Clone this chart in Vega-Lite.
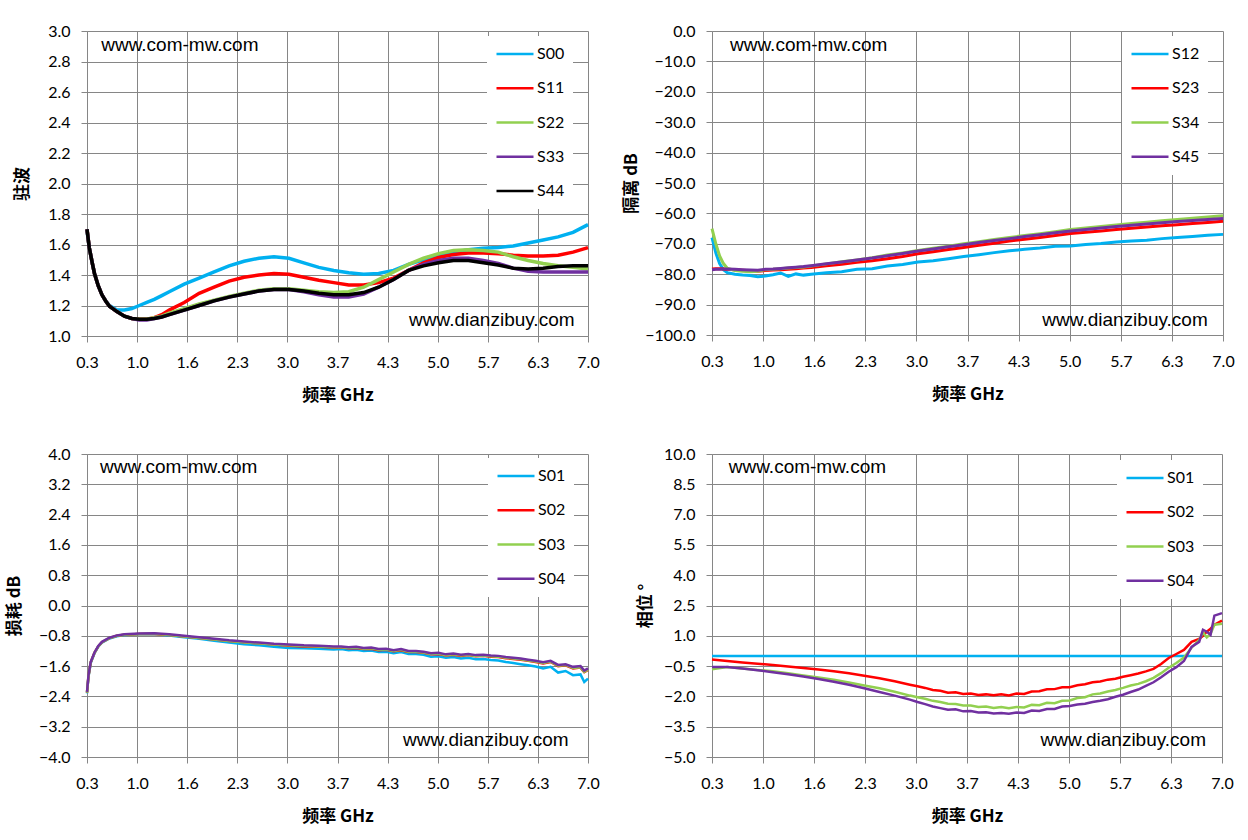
{
  "$schema": "https://vega.github.io/schema/vega-lite/v6.json",
  "background": "white",
  "padding": {"left": 5, "top": 23, "right": 5, "bottom": 5},
  "config": {
    "view": {"stroke": null},
    "axis": {"grid": true, "gridColor": "#868686", "gridWidth": 1, "gridOpacity": 1, "domainColor": "#868686", "tickColor": "#868686", "tickSize": 6, "labelFont": "Lato", "labelFontSize": 16, "labelColor": "#000000", "labelPadding": 10, "labelFlush": false, "labelOverlap": false, "titleFont": "Noto Sans CJK SC", "titleFontSize": 17, "titleFontWeight": "bold", "titleColor": "#000000"},
    "axisX": {"titlePadding": 17, "labelPadding": 12},
    "axisY": {"labelPadding": 11},
    "legend": {"orient": "none", "title": null, "fillColor": "white", "padding": 8, "symbolType": "stroke", "symbolSize": 1369, "symbolStrokeWidth": 2.5, "clipHeight": 20, "rowPadding": 14.25, "labelFont": "Lato", "labelFontSize": 16, "labelColor": "#000000", "labelOffset": 2}
  },
  "datasets": {
    "vswr": [
      {"f":0.3,"S00":1.69,"S11":1.70,"S22":1.70,"S33":1.70,"S44":1.70},
      {"f":0.33,"S00":1.58,"S11":1.58,"S22":1.58,"S33":1.58,"S44":1.58},
      {"f":0.37,"S00":1.48,"S11":1.48,"S22":1.48,"S33":1.48,"S44":1.48},
      {"f":0.4,"S00":1.41,"S11":1.41,"S22":1.41,"S33":1.41,"S44":1.41},
      {"f":0.45,"S00":1.33,"S11":1.33,"S22":1.33,"S33":1.33,"S44":1.33},
      {"f":0.5,"S00":1.27,"S11":1.27,"S22":1.27,"S33":1.27,"S44":1.27},
      {"f":0.55,"S00":1.23,"S11":1.23,"S22":1.23,"S33":1.23,"S44":1.23},
      {"f":0.6,"S00":1.20,"S11":1.195,"S22":1.195,"S33":1.195,"S44":1.195},
      {"f":0.7,"S00":1.17,"S11":1.16,"S22":1.16,"S33":1.16,"S44":1.16},
      {"f":0.8,"S00":1.17,"S11":1.13,"S22":1.13,"S33":1.13,"S44":1.13},
      {"f":0.9,"S00":1.18,"S11":1.115,"S22":1.115,"S33":1.115,"S44":1.115},
      {"f":1.0,"S00":1.20,"S11":1.11,"S22":1.11,"S33":1.105,"S44":1.11},
      {"f":1.1,"S00":1.22,"S11":1.11,"S22":1.11,"S33":1.105,"S44":1.11},
      {"f":1.2,"S00":1.24,"S11":1.12,"S22":1.12,"S33":1.115,"S44":1.115},
      {"f":1.3,"S00":1.265,"S11":1.14,"S22":1.13,"S33":1.125,"S44":1.125},
      {"f":1.4,"S00":1.29,"S11":1.17,"S22":1.15,"S33":1.14,"S44":1.14},
      {"f":1.6,"S00":1.34,"S11":1.22,"S22":1.18,"S33":1.17,"S44":1.17},
      {"f":1.8,"S00":1.38,"S11":1.28,"S22":1.21,"S33":1.20,"S44":1.20},
      {"f":2.0,"S00":1.42,"S11":1.32,"S22":1.235,"S33":1.23,"S44":1.23},
      {"f":2.2,"S00":1.46,"S11":1.36,"S22":1.26,"S33":1.255,"S44":1.255},
      {"f":2.4,"S00":1.49,"S11":1.385,"S22":1.28,"S33":1.275,"S44":1.275},
      {"f":2.6,"S00":1.51,"S11":1.40,"S22":1.30,"S33":1.295,"S44":1.295},
      {"f":2.8,"S00":1.52,"S11":1.41,"S22":1.31,"S33":1.305,"S44":1.305},
      {"f":3.0,"S00":1.51,"S11":1.405,"S22":1.31,"S33":1.305,"S44":1.305},
      {"f":3.2,"S00":1.48,"S11":1.385,"S22":1.30,"S33":1.29,"S44":1.295},
      {"f":3.4,"S00":1.45,"S11":1.365,"S22":1.29,"S33":1.27,"S44":1.28},
      {"f":3.6,"S00":1.43,"S11":1.35,"S22":1.285,"S33":1.255,"S44":1.27},
      {"f":3.8,"S00":1.415,"S11":1.335,"S22":1.29,"S33":1.255,"S44":1.27},
      {"f":4.0,"S00":1.405,"S11":1.335,"S22":1.32,"S33":1.275,"S44":1.285},
      {"f":4.2,"S00":1.41,"S11":1.35,"S22":1.37,"S33":1.32,"S44":1.32},
      {"f":4.4,"S00":1.43,"S11":1.38,"S22":1.42,"S33":1.37,"S44":1.37},
      {"f":4.6,"S00":1.47,"S11":1.43,"S22":1.47,"S33":1.43,"S44":1.43},
      {"f":4.8,"S00":1.50,"S11":1.48,"S22":1.51,"S33":1.47,"S44":1.46},
      {"f":5.0,"S00":1.53,"S11":1.515,"S22":1.54,"S33":1.495,"S44":1.48},
      {"f":5.2,"S00":1.55,"S11":1.535,"S22":1.56,"S33":1.51,"S44":1.495},
      {"f":5.4,"S00":1.565,"S11":1.545,"S22":1.565,"S33":1.51,"S44":1.495},
      {"f":5.6,"S00":1.575,"S11":1.545,"S22":1.56,"S33":1.495,"S44":1.48},
      {"f":5.8,"S00":1.58,"S11":1.54,"S22":1.55,"S33":1.475,"S44":1.465},
      {"f":6.0,"S00":1.59,"S11":1.53,"S22":1.52,"S33":1.445,"S44":1.445},
      {"f":6.2,"S00":1.61,"S11":1.525,"S22":1.495,"S33":1.425,"S44":1.44},
      {"f":6.4,"S00":1.63,"S11":1.525,"S22":1.475,"S33":1.42,"S44":1.445},
      {"f":6.6,"S00":1.65,"S11":1.53,"S22":1.46,"S33":1.42,"S44":1.455},
      {"f":6.8,"S00":1.68,"S11":1.55,"S22":1.45,"S33":1.42,"S44":1.46},
      {"f":7.0,"S00":1.73,"S11":1.58,"S22":1.44,"S33":1.42,"S44":1.46}
    ],
    "iso": [
      {"f":0.3,"S12":-68,"S23":-78.3,"S34":-65,"S45":-78.5},
      {"f":0.35,"S12":-73,"S23":-78.2,"S34":-70,"S45":-78.4},
      {"f":0.4,"S12":-76.5,"S23":-78.2,"S34":-74,"S45":-78.4},
      {"f":0.45,"S12":-78.5,"S23":-78.3,"S34":-76.5,"S45":-78.3},
      {"f":0.5,"S12":-79.5,"S23":-78.4,"S34":-78,"S45":-78.3},
      {"f":0.6,"S12":-80,"S23":-78.5,"S34":-78.8,"S45":-78.4},
      {"f":0.7,"S12":-80.3,"S23":-78.7,"S34":-79,"S45":-78.5},
      {"f":0.8,"S12":-80.4,"S23":-78.9,"S34":-79.2,"S45":-78.6},
      {"f":0.9,"S12":-80.8,"S23":-79,"S34":-79,"S45":-78.7},
      {"f":1.0,"S12":-80.6,"S23":-78.8,"S34":-78.5,"S45":-78.4},
      {"f":1.1,"S12":-80.2,"S23":-78.6,"S34":-78.4,"S45":-78.3},
      {"f":1.2,"S12":-79.6,"S23":-78.5,"S34":-78.2,"S45":-78.1},
      {"f":1.3,"S12":-80.7,"S23":-78.4,"S34":-78,"S45":-77.9},
      {"f":1.4,"S12":-79.9,"S23":-78.2,"S34":-77.8,"S45":-77.7},
      {"f":1.5,"S12":-80.3,"S23":-78,"S34":-77.6,"S45":-77.5},
      {"f":1.6,"S12":-80,"S23":-77.8,"S34":-77.3,"S45":-77.2},
      {"f":1.8,"S12":-79.5,"S23":-77.2,"S34":-76.6,"S45":-76.6},
      {"f":2.0,"S12":-79.2,"S23":-76.7,"S34":-75.9,"S45":-76},
      {"f":2.2,"S12":-78.4,"S23":-76.1,"S34":-75.3,"S45":-75.3},
      {"f":2.4,"S12":-78.2,"S23":-75.6,"S34":-74.6,"S45":-74.7},
      {"f":2.6,"S12":-77.3,"S23":-74.9,"S34":-73.7,"S45":-73.9},
      {"f":2.8,"S12":-76.8,"S23":-74.2,"S34":-73,"S45":-73.2},
      {"f":3.0,"S12":-76,"S23":-73.3,"S34":-72.2,"S45":-72.4},
      {"f":3.2,"S12":-75.6,"S23":-72.6,"S34":-71.5,"S45":-71.7},
      {"f":3.4,"S12":-74.9,"S23":-71.9,"S34":-70.8,"S45":-71},
      {"f":3.6,"S12":-74.2,"S23":-71.2,"S34":-70,"S45":-70.3},
      {"f":3.8,"S12":-73.6,"S23":-70.5,"S34":-69.3,"S45":-69.6},
      {"f":4.0,"S12":-72.9,"S23":-69.8,"S34":-68.6,"S45":-68.9},
      {"f":4.2,"S12":-72.3,"S23":-69.1,"S34":-67.9,"S45":-68.3},
      {"f":4.4,"S12":-71.8,"S23":-68.5,"S34":-67.3,"S45":-67.6},
      {"f":4.6,"S12":-71.4,"S23":-67.9,"S34":-66.7,"S45":-67},
      {"f":4.8,"S12":-70.8,"S23":-67.3,"S34":-66,"S45":-66.4},
      {"f":5.0,"S12":-70.7,"S23":-66.6,"S34":-65.3,"S45":-65.8},
      {"f":5.2,"S12":-70.2,"S23":-66.2,"S34":-64.8,"S45":-65.3},
      {"f":5.4,"S12":-69.9,"S23":-65.8,"S34":-64.3,"S45":-64.8},
      {"f":5.6,"S12":-69.4,"S23":-65.3,"S34":-63.8,"S45":-64.3},
      {"f":5.8,"S12":-69.1,"S23":-64.9,"S34":-63.3,"S45":-63.9},
      {"f":6.0,"S12":-68.8,"S23":-64.5,"S34":-62.9,"S45":-63.5},
      {"f":6.2,"S12":-68.3,"S23":-64.1,"S34":-62.4,"S45":-63.1},
      {"f":6.4,"S12":-67.9,"S23":-63.7,"S34":-62,"S45":-62.7},
      {"f":6.6,"S12":-67.6,"S23":-63.3,"S34":-61.6,"S45":-62.3},
      {"f":6.8,"S12":-67.2,"S23":-63,"S34":-61.2,"S45":-62},
      {"f":7.0,"S12":-66.9,"S23":-62.6,"S34":-60.8,"S45":-61.7}
    ],
    "loss": [
      {"f":0.3,"S01":-2.32,"S02":-2.30,"S03":-2.30,"S04":-2.28},
      {"f":0.32,"S01":-1.88,"S02":-1.86,"S03":-1.86,"S04":-1.84},
      {"f":0.35,"S01":-1.52,"S02":-1.50,"S03":-1.50,"S04":-1.49},
      {"f":0.4,"S01":-1.26,"S02":-1.25,"S03":-1.25,"S04":-1.24},
      {"f":0.45,"S01":-1.09,"S02":-1.08,"S03":-1.08,"S04":-1.07},
      {"f":0.5,"S01":-0.98,"S02":-0.97,"S03":-0.97,"S04":-0.96},
      {"f":0.6,"S01":-0.87,"S02":-0.86,"S03":-0.86,"S04":-0.85},
      {"f":0.7,"S01":-0.81,"S02":-0.80,"S03":-0.80,"S04":-0.79},
      {"f":0.8,"S01":-0.78,"S02":-0.77,"S03":-0.77,"S04":-0.76},
      {"f":1.0,"S01":-0.76,"S02":-0.75,"S03":-0.75,"S04":-0.74},
      {"f":1.2,"S01":-0.75,"S02":-0.75,"S03":-0.745,"S04":-0.73},
      {"f":1.4,"S01":-0.79,"S02":-0.78,"S03":-0.78,"S04":-0.76},
      {"f":1.6,"S01":-0.84,"S02":-0.82,"S03":-0.82,"S04":-0.80},
      {"f":1.8,"S01":-0.88,"S02":-0.86,"S03":-0.86,"S04":-0.84},
      {"f":2.0,"S01":-0.93,"S02":-0.90,"S03":-0.90,"S04":-0.88},
      {"f":2.2,"S01":-0.98,"S02":-0.94,"S03":-0.94,"S04":-0.92},
      {"f":2.4,"S01":-1.02,"S02":-0.97,"S03":-0.97,"S04":-0.95},
      {"f":2.6,"S01":-1.05,"S02":-1.00,"S03":-1.00,"S04":-0.98},
      {"f":2.8,"S01":-1.09,"S02":-1.03,"S03":-1.03,"S04":-1.01},
      {"f":3.0,"S01":-1.12,"S02":-1.06,"S03":-1.05,"S04":-1.03},
      {"f":3.2,"S01":-1.13,"S02":-1.08,"S03":-1.07,"S04":-1.05},
      {"f":3.4,"S01":-1.14,"S02":-1.09,"S03":-1.08,"S04":-1.06},
      {"f":3.6,"S01":-1.16,"S02":-1.11,"S03":-1.10,"S04":-1.08},
      {"f":3.7,"S01":-1.15,"S02":-1.11,"S03":-1.10,"S04":-1.08},
      {"f":3.8,"S01":-1.18,"S02":-1.13,"S03":-1.12,"S04":-1.10},
      {"f":3.9,"S01":-1.17,"S02":-1.12,"S03":-1.11,"S04":-1.09},
      {"f":4.0,"S01":-1.20,"S02":-1.15,"S03":-1.14,"S04":-1.12},
      {"f":4.1,"S01":-1.19,"S02":-1.14,"S03":-1.13,"S04":-1.11},
      {"f":4.2,"S01":-1.23,"S02":-1.18,"S03":-1.17,"S04":-1.15},
      {"f":4.3,"S01":-1.22,"S02":-1.17,"S03":-1.16,"S04":-1.14},
      {"f":4.4,"S01":-1.26,"S02":-1.21,"S03":-1.20,"S04":-1.18},
      {"f":4.5,"S01":-1.23,"S02":-1.18,"S03":-1.17,"S04":-1.15},
      {"f":4.6,"S01":-1.28,"S02":-1.23,"S03":-1.22,"S04":-1.20},
      {"f":4.7,"S01":-1.28,"S02":-1.23,"S03":-1.22,"S04":-1.20},
      {"f":4.8,"S01":-1.30,"S02":-1.25,"S03":-1.24,"S04":-1.22},
      {"f":4.9,"S01":-1.35,"S02":-1.29,"S03":-1.28,"S04":-1.26},
      {"f":5.0,"S01":-1.34,"S02":-1.28,"S03":-1.27,"S04":-1.25},
      {"f":5.1,"S01":-1.38,"S02":-1.32,"S03":-1.31,"S04":-1.29},
      {"f":5.2,"S01":-1.36,"S02":-1.30,"S03":-1.29,"S04":-1.27},
      {"f":5.3,"S01":-1.40,"S02":-1.33,"S03":-1.32,"S04":-1.30},
      {"f":5.4,"S01":-1.38,"S02":-1.31,"S03":-1.30,"S04":-1.28},
      {"f":5.5,"S01":-1.42,"S02":-1.34,"S03":-1.33,"S04":-1.31},
      {"f":5.6,"S01":-1.41,"S02":-1.33,"S03":-1.32,"S04":-1.30},
      {"f":5.7,"S01":-1.44,"S02":-1.35,"S03":-1.34,"S04":-1.32},
      {"f":5.8,"S01":-1.45,"S02":-1.36,"S03":-1.35,"S04":-1.33},
      {"f":5.9,"S01":-1.49,"S02":-1.39,"S03":-1.38,"S04":-1.36},
      {"f":6.0,"S01":-1.52,"S02":-1.41,"S03":-1.40,"S04":-1.38},
      {"f":6.1,"S01":-1.55,"S02":-1.43,"S03":-1.42,"S04":-1.40},
      {"f":6.2,"S01":-1.58,"S02":-1.46,"S03":-1.45,"S04":-1.43},
      {"f":6.3,"S01":-1.61,"S02":-1.49,"S03":-1.48,"S04":-1.46},
      {"f":6.4,"S01":-1.66,"S02":-1.53,"S03":-1.52,"S04":-1.50},
      {"f":6.5,"S01":-1.62,"S02":-1.49,"S03":-1.48,"S04":-1.46},
      {"f":6.6,"S01":-1.77,"S02":-1.60,"S03":-1.59,"S04":-1.57},
      {"f":6.7,"S01":-1.73,"S02":-1.58,"S03":-1.57,"S04":-1.55},
      {"f":6.8,"S01":-1.84,"S02":-1.66,"S03":-1.65,"S04":-1.62},
      {"f":6.9,"S01":-1.82,"S02":-1.64,"S03":-1.63,"S04":-1.60},
      {"f":6.95,"S01":-2.02,"S02":-1.76,"S03":-1.75,"S04":-1.72},
      {"f":7.0,"S01":-1.93,"S02":-1.70,"S03":-1.69,"S04":-1.66}
    ],
    "phase": [
      {"f":0.3,"S01":0,"S02":-0.17,"S03":-0.66,"S04":-0.55},
      {"f":0.5,"S01":0,"S02":-0.25,"S03":-0.55,"S04":-0.55},
      {"f":0.7,"S01":0,"S02":-0.32,"S03":-0.62,"S04":-0.62},
      {"f":0.9,"S01":0,"S02":-0.38,"S03":-0.69,"S04":-0.70},
      {"f":1.1,"S01":0,"S02":-0.44,"S03":-0.76,"S04":-0.80},
      {"f":1.3,"S01":0,"S02":-0.52,"S03":-0.85,"S04":-0.90},
      {"f":1.5,"S01":0,"S02":-0.59,"S03":-0.96,"S04":-1.02},
      {"f":1.7,"S01":0,"S02":-0.67,"S03":-1.06,"S04":-1.14},
      {"f":1.9,"S01":0,"S02":-0.75,"S03":-1.18,"S04":-1.27},
      {"f":2.1,"S01":0,"S02":-0.85,"S03":-1.31,"S04":-1.42},
      {"f":2.3,"S01":0,"S02":-0.98,"S03":-1.46,"S04":-1.60},
      {"f":2.5,"S01":0,"S02":-1.10,"S03":-1.60,"S04":-1.78},
      {"f":2.7,"S01":0,"S02":-1.25,"S03":-1.77,"S04":-1.96},
      {"f":2.9,"S01":0,"S02":-1.42,"S03":-1.96,"S04":-2.16},
      {"f":3.0,"S01":0,"S02":-1.50,"S03":-2.04,"S04":-2.28},
      {"f":3.1,"S01":0,"S02":-1.58,"S03":-2.12,"S04":-2.38},
      {"f":3.2,"S01":0,"S02":-1.68,"S03":-2.22,"S04":-2.50},
      {"f":3.3,"S01":0,"S02":-1.72,"S03":-2.28,"S04":-2.58},
      {"f":3.4,"S01":0,"S02":-1.82,"S03":-2.36,"S04":-2.66},
      {"f":3.5,"S01":0,"S02":-1.80,"S03":-2.38,"S04":-2.64},
      {"f":3.6,"S01":0,"S02":-1.88,"S03":-2.45,"S04":-2.74},
      {"f":3.7,"S01":0,"S02":-1.86,"S03":-2.45,"S04":-2.72},
      {"f":3.8,"S01":0,"S02":-1.93,"S03":-2.52,"S04":-2.80},
      {"f":3.9,"S01":0,"S02":-1.90,"S03":-2.50,"S04":-2.78},
      {"f":4.0,"S01":0,"S02":-1.94,"S03":-2.57,"S04":-2.85},
      {"f":4.1,"S01":0,"S02":-1.90,"S03":-2.52,"S04":-2.82},
      {"f":4.2,"S01":0,"S02":-1.95,"S03":-2.58,"S04":-2.86},
      {"f":4.3,"S01":0,"S02":-1.86,"S03":-2.52,"S04":-2.80},
      {"f":4.4,"S01":0,"S02":-1.88,"S03":-2.55,"S04":-2.82},
      {"f":4.5,"S01":0,"S02":-1.76,"S03":-2.42,"S04":-2.70},
      {"f":4.6,"S01":0,"S02":-1.74,"S03":-2.44,"S04":-2.72},
      {"f":4.7,"S01":0,"S02":-1.65,"S03":-2.32,"S04":-2.62},
      {"f":4.8,"S01":0,"S02":-1.64,"S03":-2.34,"S04":-2.62},
      {"f":4.9,"S01":0,"S02":-1.55,"S03":-2.22,"S04":-2.50},
      {"f":5.0,"S01":0,"S02":-1.55,"S03":-2.20,"S04":-2.48},
      {"f":5.1,"S01":0,"S02":-1.45,"S03":-2.08,"S04":-2.40},
      {"f":5.2,"S01":0,"S02":-1.40,"S03":-2.04,"S04":-2.36},
      {"f":5.3,"S01":0,"S02":-1.30,"S03":-1.90,"S04":-2.28},
      {"f":5.4,"S01":0,"S02":-1.26,"S03":-1.86,"S04":-2.22},
      {"f":5.5,"S01":0,"S02":-1.17,"S03":-1.76,"S04":-2.14},
      {"f":5.6,"S01":0,"S02":-1.13,"S03":-1.68,"S04":-2.02},
      {"f":5.7,"S01":0,"S02":-1.03,"S03":-1.58,"S04":-1.92},
      {"f":5.8,"S01":0,"S02":-0.95,"S03":-1.46,"S04":-1.78},
      {"f":5.9,"S01":0,"S02":-0.87,"S03":-1.38,"S04":-1.66},
      {"f":6.0,"S01":0,"S02":-0.76,"S03":-1.25,"S04":-1.48},
      {"f":6.1,"S01":0,"S02":-0.64,"S03":-1.08,"S04":-1.30},
      {"f":6.2,"S01":0,"S02":-0.40,"S03":-0.85,"S04":-1.05},
      {"f":6.3,"S01":0,"S02":-0.10,"S03":-0.58,"S04":-0.78},
      {"f":6.4,"S01":0,"S02":0.10,"S03":-0.35,"S04":-0.55},
      {"f":6.5,"S01":0,"S02":0.30,"S03":-0.08,"S04":-0.25},
      {"f":6.6,"S01":0,"S02":0.70,"S03":0.41,"S04":0.45},
      {"f":6.7,"S01":0,"S02":0.85,"S03":0.80,"S04":0.70},
      {"f":6.75,"S01":0,"S02":1.00,"S03":1.16,"S04":1.30},
      {"f":6.8,"S01":0,"S02":1.20,"S03":0.92,"S04":1.20},
      {"f":6.85,"S01":0,"S02":1.35,"S03":1.10,"S04":1.05},
      {"f":6.9,"S01":0,"S02":1.55,"S03":1.55,"S04":2.00},
      {"f":7.0,"S01":0,"S02":1.75,"S03":1.60,"S04":2.12}
    ]
  },
  "columns": 2,
  "align": "all",
  "bounds": "flush",
  "spacing": {"row": 118, "column": 114},
  "resolve": {"scale": {"color": "independent"}, "legend": {"color": "independent"}},
  "concat": [
    {
      "width": 501, "height": 305,
      "layer": [
        {
          "data": {"name": "vswr"},
          "transform": [{"fold": ["S00", "S11", "S22", "S33", "S44"], "as": ["s", "v"]}],
          "mark": {"type": "line", "strokeWidth": 3.5},
          "encoding": {
            "x": {"field": "f", "type": "quantitative", "scale": {"domain": [0.3, 7.0], "nice": false, "zero": false}, "axis": {"values": [0.3, 0.97, 1.64, 2.31, 2.98, 3.65, 4.32, 4.99, 5.66, 6.33, 7.0], "tickCount": 11, "labelExpr": "format(datum.value + 0.000001, '.1f')", "title": "频率  GHz"}},
            "y": {"field": "v", "type": "quantitative", "scale": {"domain": [1.0, 3.0], "nice": false, "zero": false}, "axis": {"values": [1.0, 1.2, 1.4, 1.6, 1.8, 2.0, 2.2, 2.4, 2.6, 2.8, 3.0], "tickCount": 11, "format": ".1f", "title": "驻波", "titlePadding": 16}},
            "color": {"field": "s", "type": "nominal", "scale": {"domain": ["S00", "S11", "S22", "S33", "S44"], "range": ["#00b0f0", "#ff0000", "#92d050", "#7030a0", "#000000"]}, "legend": {"orient": "none", "legendX": 400, "legendY": 5}}
          }
        },
        {
          "data": {"values": [{"t": "www.com-mw.com"}]},
          "mark": {"type": "text", "align": "left", "baseline": "middle", "font": "Liberation Sans", "fontSize": 19, "color": "#000000"},
          "encoding": {"text": {"field": "t"}, "x": {"datum": 0.49, "type": "quantitative"}, "y": {"datum": 2.91, "type": "quantitative"}}
        },
        {
          "data": {"values": [{"t": "www.dianzibuy.com"}]},
          "mark": {"type": "text", "align": "right", "baseline": "middle", "font": "Liberation Sans", "fontSize": 19, "color": "#000000"},
          "encoding": {"text": {"field": "t"}, "x": {"datum": 6.82, "type": "quantitative"}, "y": {"datum": 1.105, "type": "quantitative"}}
        }
      ]
    },
    {
      "width": 511, "height": 304,
      "layer": [
        {
          "data": {"name": "iso"},
          "transform": [{"fold": ["S12", "S23", "S34", "S45"], "as": ["s", "v"]}],
          "mark": {"type": "line", "strokeWidth": 3},
          "encoding": {
            "x": {"field": "f", "type": "quantitative", "scale": {"domain": [0.3, 7.0], "nice": false, "zero": false}, "axis": {"values": [0.3, 0.97, 1.64, 2.31, 2.98, 3.65, 4.32, 4.99, 5.66, 6.33, 7.0], "tickCount": 11, "labelExpr": "format(datum.value + 0.000001, '.1f')", "title": "频率  GHz"}},
            "y": {"field": "v", "type": "quantitative", "scale": {"domain": [-100, 0], "nice": false, "zero": false}, "axis": {"values": [-100, -90, -80, -70, -60, -50, -40, -30, -20, -10, 0], "tickCount": 11, "format": ".1f", "title": "隔离 dB", "titlePadding": 4}},
            "color": {"field": "s", "type": "nominal", "scale": {"domain": ["S12", "S23", "S34", "S45"], "range": ["#00b0f0", "#ff0000", "#92d050", "#7030a0"]}, "legend": {"orient": "none", "legendX": 410, "legendY": 5}}
          }
        },
        {
          "data": {"values": [{"t": "www.com-mw.com"}]},
          "mark": {"type": "text", "align": "left", "baseline": "middle", "font": "Liberation Sans", "fontSize": 19, "color": "#000000"},
          "encoding": {"text": {"field": "t"}, "x": {"datum": 0.536, "type": "quantitative"}, "y": {"datum": -4.6, "type": "quantitative"}}
        },
        {
          "data": {"values": [{"t": "www.dianzibuy.com"}]},
          "mark": {"type": "text", "align": "right", "baseline": "middle", "font": "Liberation Sans", "fontSize": 19, "color": "#000000"},
          "encoding": {"text": {"field": "t"}, "x": {"datum": 6.8, "type": "quantitative"}, "y": {"datum": -95.1, "type": "quantitative"}}
        }
      ]
    },
    {
      "width": 501, "height": 303,
      "layer": [
        {
          "data": {"name": "loss"},
          "transform": [{"fold": ["S01", "S02", "S03", "S04"], "as": ["s", "v"]}],
          "mark": {"type": "line", "strokeWidth": 2.5},
          "encoding": {
            "x": {"field": "f", "type": "quantitative", "scale": {"domain": [0.3, 7.0], "nice": false, "zero": false}, "axis": {"values": [0.3, 0.97, 1.64, 2.31, 2.98, 3.65, 4.32, 4.99, 5.66, 6.33, 7.0], "tickCount": 11, "labelExpr": "format(datum.value + 0.000001, '.1f')", "title": "频率  GHz"}},
            "y": {"field": "v", "type": "quantitative", "scale": {"domain": [-4.0, 4.0], "nice": false, "zero": false}, "axis": {"values": [-4.0, -3.2, -2.4, -1.6, -0.8, 0.0, 0.8, 1.6, 2.4, 3.2, 4.0], "tickCount": 11, "format": ".1f", "title": "损耗 dB", "titlePadding": 15}},
            "color": {"field": "s", "type": "nominal", "scale": {"domain": ["S01", "S02", "S03", "S04"], "range": ["#00b0f0", "#ff0000", "#92d050", "#7030a0"]}, "legend": {"orient": "none", "legendX": 401, "legendY": 4}}
          }
        },
        {
          "data": {"values": [{"t": "www.com-mw.com"}]},
          "mark": {"type": "text", "align": "left", "baseline": "middle", "font": "Liberation Sans", "fontSize": 19, "color": "#000000"},
          "encoding": {"text": {"field": "t"}, "x": {"datum": 0.474, "type": "quantitative"}, "y": {"datum": 3.66, "type": "quantitative"}}
        },
        {
          "data": {"values": [{"t": "www.dianzibuy.com"}]},
          "mark": {"type": "text", "align": "right", "baseline": "middle", "font": "Liberation Sans", "fontSize": 19, "color": "#000000"},
          "encoding": {"text": {"field": "t"}, "x": {"datum": 6.74, "type": "quantitative"}, "y": {"datum": -3.55, "type": "quantitative"}}
        }
      ]
    },
    {
      "width": 510, "height": 303,
      "layer": [
        {
          "data": {"name": "phase"},
          "transform": [{"fold": ["S01", "S02", "S03", "S04"], "as": ["s", "v"]}],
          "mark": {"type": "line", "strokeWidth": 2.5},
          "encoding": {
            "x": {"field": "f", "type": "quantitative", "scale": {"domain": [0.3, 7.0], "nice": false, "zero": false}, "axis": {"values": [0.3, 0.97, 1.64, 2.31, 2.98, 3.65, 4.32, 4.99, 5.66, 6.33, 7.0], "tickCount": 11, "labelExpr": "format(datum.value + 0.000001, '.1f')", "title": "频率  GHz"}},
            "y": {"field": "v", "type": "quantitative", "scale": {"domain": [-5.0, 10.0], "nice": false, "zero": false}, "axis": {"values": [-5.0, -3.5, -2.0, -0.5, 1.0, 2.5, 4.0, 5.5, 7.0, 8.5, 10.0], "tickCount": 11, "format": ".1f", "title": "相位 °", "titlePadding": 9}},
            "color": {"field": "s", "type": "nominal", "scale": {"domain": ["S01", "S02", "S03", "S04"], "range": ["#00b0f0", "#ff0000", "#92d050", "#7030a0"]}, "legend": {"orient": "none", "legendX": 405, "legendY": 6}}
          }
        },
        {
          "data": {"values": [{"t": "www.com-mw.com"}]},
          "mark": {"type": "text", "align": "left", "baseline": "middle", "font": "Liberation Sans", "fontSize": 19, "color": "#000000"},
          "encoding": {"text": {"field": "t"}, "x": {"datum": 0.52, "type": "quantitative"}, "y": {"datum": 9.36, "type": "quantitative"}}
        },
        {
          "data": {"values": [{"t": "www.dianzibuy.com"}]},
          "mark": {"type": "text", "align": "right", "baseline": "middle", "font": "Liberation Sans", "fontSize": 19, "color": "#000000"},
          "encoding": {"text": {"field": "t"}, "x": {"datum": 6.79, "type": "quantitative"}, "y": {"datum": -4.16, "type": "quantitative"}}
        }
      ]
    }
  ]
}
